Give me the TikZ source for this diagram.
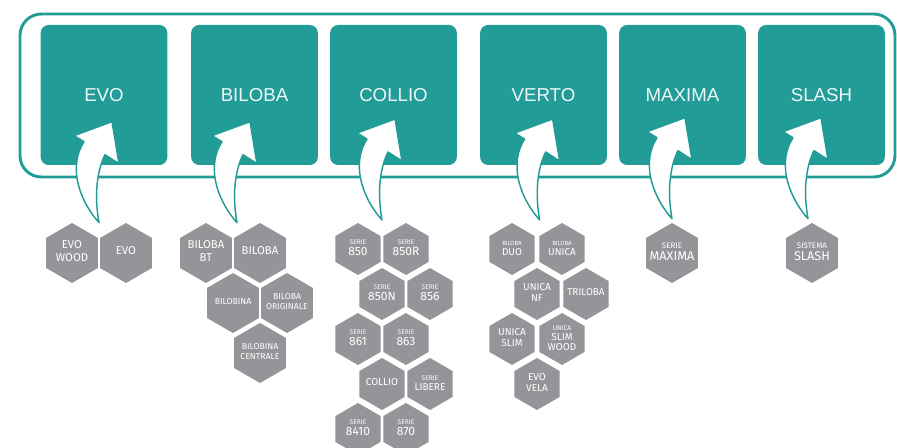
\documentclass[tikz,border=0pt]{standalone}
\usepackage{fontspec}
\setmainfont{Liberation Sans}
\newfontfamily\hexfont{Fira Sans}
\usetikzlibrary{shapes.geometric,calc}
\definecolor{tealBox}{HTML}{229C97}
\definecolor{hexGrey}{HTML}{939598}
\newcommand{\hexsize}[2]{\fontsize{#1}{#2}\selectfont}
\newcommand{\topword}[2]{{\hexsize{#1}{#1}#2}}
% text that does not widen the hexagon
\newcommand{\hexText}[1]{\smash{\makebox[0pt]{\raisebox{-1.5pt}{\begin{tabular}{@{}c@{}}#1\end{tabular}}}}}
\tikzset{
  rangeBox/.style={fill=tealBox, rounded corners=6pt, minimum width=95pt, minimum height=105pt,
    text=white!92!tealBox, font=\hexsize{14}{16}},
  bigHex/.style={regular polygon, regular polygon sides=6, shape border rotate=30,
    minimum size=45pt, inner sep=0pt,
    fill=hexGrey, text=white, font=\hexfont\hexsize{8.5}{9.5}},
  smallHex/.style={bigHex, minimum size=39pt, font=\hexfont\hexsize{7.5}{8.5}},
  pics/upArrow/.style={code={
    \draw[tealBox, fill=white, line width=1.1pt, line join=round]
      (0,0) .. controls (-5,-28) and (-2,-52) .. (6,-68) -- (20,-59) -- (13,-101)
      -- (-25,-87) -- (-15,-81) .. controls (-30,-58) and (-22,-25) .. (0,0) -- cycle;
  }}
}

\begin{document}
\begin{tikzpicture}[x=0.75pt, y=-0.75pt]
    \clip (0,0) rectangle (897,448);
    \draw[tealBox, line width=2.2pt, rounded corners=16pt] (20,14) rectangle (895,177);

    \node[rangeBox] (evoBox) at (104,95) {EVO};
    \node[rangeBox] (bilobaBox) at (254.5,95) {BILOBA};
    \node[rangeBox] (collioBox) at (393.5,95) {COLLIO};
    \node[rangeBox] (vertoBox) at (543.5,95) {VERTO};
    \node[rangeBox] (maximaBox) at (682.5,95) {MAXIMA};
    \node[rangeBox] (slashBox) at (821.5,95) {SLASH};

    % evo
    \node[bigHex] (evoWood) at (72,253) {\hexText{EVO\\WOOD}};
    \node[bigHex] (evo) at (126,253) {\hexText{EVO}};
    % biloba
    \node[bigHex] (bilobaBt) at (206,253) {\hexText{BILOBA\\BT}};
    \node[bigHex] (biloba) at (260,253) {\hexText{BILOBA}};
    \node[bigHex, font=\hexfont\hexsize{6.5}{7.5}] (bilobina) at (233,303) {\hexText{BILOBINA}};
    \node[bigHex, font=\hexfont\hexsize{6.5}{7.5}] (bilobaOrig) at (287,303) {\hexText{BILOBA\\ORIGINALE}};
    \node[bigHex, font=\hexfont\hexsize{6.5}{7.5}] (bilobinaCent) at (260,353) {\hexText{BILOBINA\\CENTRALE}};
    % collio
    \node[smallHex, font=\hexfont\hexsize{9}{7.5}] (s850) at (358,249) {\hexText{\topword{5}{SERIE}\\850}};
    \node[smallHex, font=\hexfont\hexsize{9}{7.5}] (s850r) at (406,249) {\hexText{\topword{5}{SERIE}\\850R}};
    \node[smallHex, font=\hexfont\hexsize{9}{7.5}] (s850n) at (382,294) {\hexText{\topword{5}{SERIE}\\850N}};
    \node[smallHex, font=\hexfont\hexsize{9}{7.5}] (s856) at (430,294) {\hexText{\topword{5}{SERIE}\\856}};
    \node[smallHex, font=\hexfont\hexsize{9}{7.5}] (s861) at (358,339) {\hexText{\topword{5}{SERIE}\\861}};
    \node[smallHex, font=\hexfont\hexsize{9}{7.5}] (s863) at (406,339) {\hexText{\topword{5}{SERIE}\\863}};
    \node[smallHex] (collio) at (382,384) {\hexText{COLLIO}};
    \node[smallHex, font=\hexfont\hexsize{7.5}{7.5}] (libere) at (430,384) {\hexText{\topword{5}{SERIE}\\LIBERE}};
    \node[smallHex, font=\hexfont\hexsize{9}{7.5}] (s8410) at (358,429) {\hexText{\topword{5}{SERIE}\\8410}};
    \node[smallHex, font=\hexfont\hexsize{9}{7.5}] (s870) at (406,429) {\hexText{\topword{5}{SERIE}\\870}};
    % verto
    \node[smallHex, font=\hexfont\hexsize{7.5}{7.5}] (duo) at (512,249) {\hexText{\topword{4.5}{BILOBA}\\DUO}};
    \node[smallHex, font=\hexfont\hexsize{7.5}{7.5}] (unica) at (562,249) {\hexText{\topword{4.5}{BILOBA}\\UNICA}};
    \node[smallHex] (unicaNf) at (537,294) {\hexText{UNICA\\NF}};
    \node[smallHex] (triloba) at (586,294) {\hexText{TRILOBA}};
    \node[smallHex] (unicaSlim) at (512,339) {\hexText{UNICA\\SLIM}};
    \node[smallHex, font=\hexfont\hexsize{7.5}{7}] (slimWood) at (562,339) {\hexText{\topword{5}{UNICA}\\SLIM\\WOOD}};
    \node[smallHex] (evoVela) at (537,384) {\hexText{EVO\\VELA}};
    % maxima, slash
    \node[bigHex, font=\hexfont\hexsize{9.5}{9}] (maxima) at (672,253) {\hexText{\topword{6}{SERIE}\\MAXIMA}};
    \node[bigHex, font=\hexfont\hexsize{9.5}{9}] (slash) at (812,253) {\hexText{\topword{6}{SISTEMA}\\SLASH}};

    \pic at ($(evoWood.north)!.5!(evo.north)$) {upArrow};
    \pic at ([xshift=3pt]$(bilobaBt.north)!.5!(biloba.north)$) {upArrow};
    \pic at ([yshift=2pt]$(s850.north)!.5!(s850r.north)$) {upArrow};
    \pic at ([xshift=2pt,yshift=2pt]$(duo.north)!.5!(unica.north)$) {upArrow};
    \pic at ([yshift=3pt]maxima.north) {upArrow};
    \pic at ([xshift=-3pt,yshift=3pt]slash.north) {upArrow};
\end{tikzpicture}
\end{document}
